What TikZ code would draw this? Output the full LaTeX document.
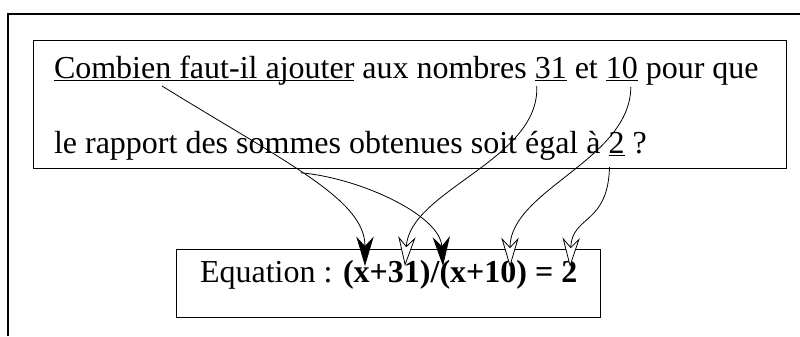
\documentclass[tikz,border=0pt]{standalone}
\usepackage{fontspec}
\setmainfont{Liberation Serif}
\usetikzlibrary{calc,arrows.meta}
\newcommand{\myul}[1]{\setbox0\hbox{#1}\rlap{\rule[-2.0pt]{\wd0}{0.8pt}}\box0}
\tikzset{
  txt/.style={anchor=base west, inner sep=0pt, outer sep=0pt, font=\fontsize{24pt}{28pt}\selectfont},
  frame/.style={draw, line width=0.6pt, inner sep=0pt},
  conn/.style={line width=0.6pt},
  blk/.style={conn, -{Stealth[length=22pt,width=13pt,inset=7pt]}},
  opn/.style={conn, -{Stealth[open,fill=white,length=22pt,width=13pt,inset=7pt]}}
}
\begin{document}
\begin{tikzpicture}[x=0.75pt,y=-0.75pt]
\useasboundingbox (0,0) rectangle (800,336);
% outer frame
\draw[line width=1.5pt] (8,336) -- (8,14) -- (800,14);
% boxes
\node[frame, minimum width=564.75pt, minimum height=96pt] (qbox) at (409.5,104) {};
\node[frame, minimum width=318pt, minimum height=51pt, fill=white] (ebox) at (388,283) {};
% line 1
\node[txt] (c1) at (54,78) {\myul{Combien faut-il ajouter}};
\node[txt] (t1) at (c1.base east) {\ aux nombres\ \hbox{}};
\node[txt] (n31) at (t1.base east) {\myul{31}};
\node[txt] (t2) at (n31.base east) {\ et\ \hbox{}};
\node[txt] (n10) at (t2.base east) {\myul{10}};
\node[txt] (t3) at (n10.base east) {\ pour que};
% line 2
\node[txt] (l2) at (54,153) {le rapport des sommes obtenues soit égal à\ \hbox{}};
\node[txt] (n2) at (l2.base east) {\myul{2}};
\node[txt] (l2b) at (n2.base east) {\ ?};
% equation
\node[txt] (eq) at (200,282) {Equation : \textbf{(x+31)/(x+10) = 2}};
% connector ends
\coordinate (s1) at ($(c1.base west)+(108,8)$);
\coordinate (s31) at ($(n31.base west)+(2,8)$);
\coordinate (s10) at ($(n10.base east)+(-7,9)$);
\coordinate (s2) at ($(n2.base west)+(1,14)$);
\coordinate (e1) at ($(eq.base west)+(165,-16)$);
\coordinate (e2) at ($(eq.base west)+(205,-16)$);
\coordinate (e3) at ($(eq.base west)+(243,-16)$);
\coordinate (e4) at ($(eq.base west)+(310,-15)$);
\coordinate (e5) at ($(eq.base west)+(370,-15)$);
% connectors
\draw[blk] (s1) .. controls (290,165) and (365,200) .. coordinate[pos=0.45] (br) (e1);
\draw[blk] (br) .. controls (360,178) and (440,215) .. (e3);
\draw[opn] (s31) .. controls (540,160) and (410,190) .. (e2);
\draw[opn] (s10) .. controls (630,160) and (510,190) .. (e4);
\draw[opn] (s2) .. controls (608,225) and (572,215) .. (e5);
\end{tikzpicture}
\end{document}
